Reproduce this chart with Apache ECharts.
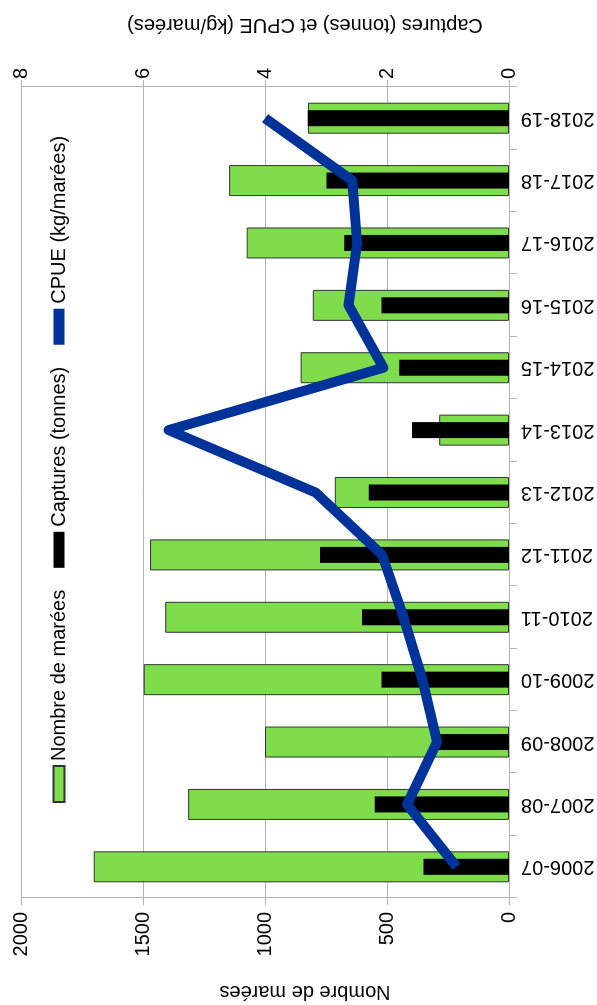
<!DOCTYPE html>
<html>
<head>
<meta charset="utf-8">
<script src="https://cdn.jsdelivr.net/npm/echarts@6/dist/echarts.min.js"></script>
<style>
html, body { margin: 0; padding: 0; width: 597px; height: 1005px; overflow: hidden; background: #fff; }
#chart {
  position: absolute; left: 0; top: 0;
  width: 1005px; height: 597px;
  transform-origin: 0 0;
  transform: translateY(1005px) rotate(-90deg);
}
</style>
</head>
<body>
<div id="chart"></div>
<script>
const categories = ['2006-07','2007-08','2008-09','2009-10','2010-11','2011-12','2012-13','2013-14','2014-15','2015-16','2016-17','2017-18','2018-19'];
const nombreMarees = [1702, 1315, 1000, 1497, 1409, 1471, 714, 286, 854, 804, 1075, 1147, 824];
const captures = [1.40, 2.20, 1.16, 2.09, 2.41, 3.10, 2.30, 1.59, 1.80, 2.09, 2.70, 2.99, 3.30];
const cpue = [0.86, 1.67, 1.18, 1.42, 1.73, 2.08, 3.17, 5.58, 2.06, 2.63, 2.49, 2.57, 4.00];
const leftTicks = [0, 500, 1000, 1500, 2000];
const rightTicks = [0, 2, 4, 6, 8];

const FONT = 'Liberation Sans';
const GRAY = '#b3b3b3';

const chart = echarts.init(document.getElementById('chart'), null, { renderer: 'canvas' });
chart.setOption({
  animation: false,
  textStyle: { fontFamily: FONT, color: '#000' },
  legend: {
    left: 197, top: 44,
    itemWidth: 36, itemHeight: 11, itemGap: 22,
    icon: 'rect',
    textStyle: { fontFamily: FONT, fontSize: 20, color: '#000' },
    data: ['Nombre de marées', 'Captures (tonnes)', 'CPUE (kg/marées)']
  },
  grid: { left: 107, right: 87, top: 21, bottom: 88, outerBoundsMode: 'none' },
  xAxis: [
    {
      type: 'category', data: categories, position: 'bottom',
      axisLine: { lineStyle: { color: GRAY, width: 1 } },
      axisTick: { show: true, length: 8, lineStyle: { color: GRAY } },
      axisLabel: { rotate: 90, margin: 12, fontSize: 20, color: '#000', fontFamily: FONT, interval: 0 }
    },
    { type: 'category', data: categories, show: false }
  ],
  yAxis: [
    {
      type: 'value', min: leftTicks[0], max: leftTicks[leftTicks.length - 1], interval: 500,
      position: 'left',
      name: 'Nombre de marées', nameLocation: 'middle', nameRotate: 90, nameGap: 84,
      nameTextStyle: { fontSize: 20, color: '#000', fontFamily: FONT, padding: [0, 80, 0, 0] },
      axisLine: { show: true, lineStyle: { color: GRAY, width: 1 } },
      axisTick: { show: true, length: 7, lineStyle: { color: GRAY } },
      axisLabel: { margin: 14, fontSize: 20, color: '#000', fontFamily: FONT, formatter: (v) => String(v) },
      splitLine: { show: true, lineStyle: { color: GRAY, width: 1 } }
    },
    {
      type: 'value', min: rightTicks[0], max: rightTicks[rightTicks.length - 1], interval: 2,
      position: 'right',
      name: 'Captures (tonnes) et CPUE (kg/marées)', nameLocation: 'middle', nameRotate: 90, nameGap: 52,
      nameTextStyle: { fontSize: 20, color: '#000', fontFamily: FONT, padding: [0, 80, 0, 0] },
      axisLine: { show: true, lineStyle: { color: GRAY, width: 1 } },
      axisTick: { show: true, length: 7, lineStyle: { color: GRAY } },
      axisLabel: { margin: 8, fontSize: 20, color: '#000', fontFamily: FONT, formatter: (v) => String(v) },
      splitLine: { show: false }
    }
  ],
  series: [
    {
      name: 'Nombre de marées', type: 'bar', xAxisIndex: 0, yAxisIndex: 0,
      data: nombreMarees, barWidth: 31,
      itemStyle: { color: '#7fdd4c', borderColor: '#333333', borderWidth: 1 },
      z: 2
    },
    {
      name: 'Captures (tonnes)', type: 'bar', xAxisIndex: 1, yAxisIndex: 1,
      data: captures, barWidth: 16,
      itemStyle: { color: '#000000' },
      z: 3
    },
    {
      name: 'CPUE (kg/marées)', type: 'line', xAxisIndex: 0, yAxisIndex: 1,
      data: cpue, symbol: 'none',
      itemStyle: { color: '#003399' },
      lineStyle: { color: '#003399', width: 10, join: 'round', cap: 'butt' },
      z: 4
    }
  ]
});
</script>
</body>
</html>
